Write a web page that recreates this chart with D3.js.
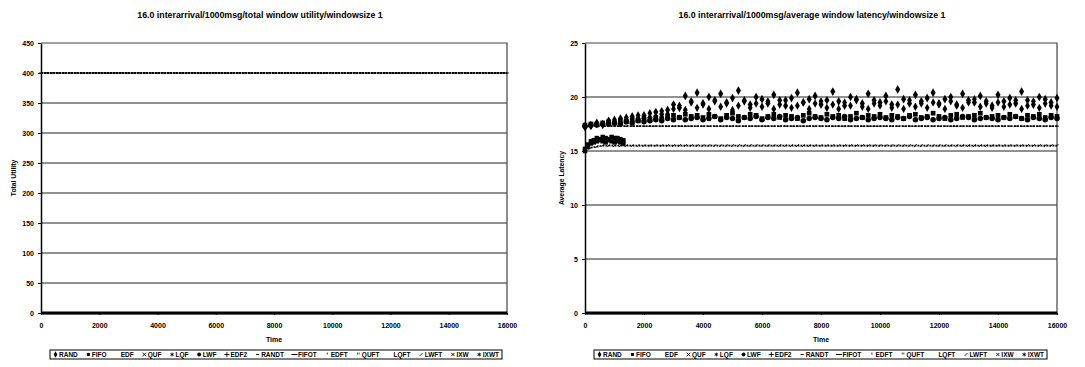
<!DOCTYPE html>
<html>
<head>
<meta charset="utf-8">
<script src="https://cdn.jsdelivr.net/npm/d3@7"></script>
<style>
  body { margin: 0; background: #fff; }
  text { font-family: "Liberation Sans", Arial, sans-serif; font-weight: bold; }
</style>
</head>
<body>
<script>
// ---- data ----
const seriesNames = ["RAND", "FIFO", "EDF", "QUF", "LQF", "LWF", "EDF2", "RANDT",
  "FIFOT", "EDFT", "QUFT", "LQFT", "LWFT", "IXW", "IXWT"];

const timeTicks = [0, 2000, 4000, 6000, 8000, 10000, 12000, 14000, 16000];
const utilityTicks = [0, 50, 100, 150, 200, 250, 300, 350, 400, 450];
const latencyTicks = [0, 5, 10, 15, 20, 25];

const times = [
  0, 200, 400, 600, 800, 1000, 1200, 1400, 1600, 1800,
  2000, 2200, 2400, 2600, 2800, 3000, 3200, 3400, 3600, 3800,
  4000, 4200, 4400, 4600, 4800, 5000, 5200, 5400, 5600, 5800,
  6000, 6200, 6400, 6600, 6800, 7000, 7200, 7400, 7600, 7800,
  8000, 8200, 8400, 8600, 8800, 9000, 9200, 9400, 9600, 9800,
  10000, 10200, 10400, 10600, 10800, 11000, 11200, 11400, 11600, 11800,
  12000, 12200, 12400, 12600, 12800, 13000, 13200, 13400, 13600, 13800,
  14000, 14200, 14400, 14600, 14800, 15000, 15200, 15400, 15600, 15800,
  16000];

const utilityTop = [
  400, 400, 400, 400, 400, 400, 400, 400, 400, 400,
  400, 400, 400, 400, 400, 400, 400, 400, 400, 400,
  400, 400, 400, 400, 400, 400, 400, 400, 400, 400,
  400, 400, 400, 400, 400, 400, 400, 400, 400, 400,
  400, 400, 400, 400, 400, 400, 400, 400, 400, 400,
  400, 400, 400, 400, 400, 400, 400, 400, 400, 400,
  400, 400, 400, 400, 400, 400, 400, 400, 400, 400,
  400, 400, 400, 400, 400, 400, 400, 400, 400, 400,
  400];

const utilityZero = [
  0, 0, 0, 0, 0, 0, 0, 0, 0, 0,
  0, 0, 0, 0, 0, 0, 0, 0, 0, 0,
  0, 0, 0, 0, 0, 0, 0, 0, 0, 0,
  0, 0, 0, 0, 0, 0, 0, 0, 0, 0,
  0, 0, 0, 0, 0, 0, 0, 0, 0, 0,
  0, 0, 0, 0, 0, 0, 0, 0, 0, 0,
  0, 0, 0, 0, 0, 0, 0, 0, 0, 0,
  0, 0, 0, 0, 0, 0, 0, 0, 0, 0,
  0];

const latencyHigh = [
  17.3, 17.4, 17.6, 17.5, 17.8, 17.7, 18.0, 17.9, 18.2, 18.0,
  18.3, 18.1, 18.6, 18.4, 18.8, 19.3, 19.0, 20.1, 19.6, 20.4,
  19.4, 20.0, 19.7, 20.3, 19.5, 19.9, 20.6, 19.6, 19.3, 20.0,
  19.8, 19.4, 20.2, 19.7, 19.2, 19.9, 20.4, 19.5, 19.8, 20.1,
  19.3, 19.7, 20.5, 19.6, 19.2, 20.0, 19.8, 19.4, 20.3, 19.7,
  19.5, 20.1, 19.3, 20.7, 19.8, 19.4, 20.2, 19.6, 19.9, 20.4,
  19.4, 19.8, 20.0, 19.3, 20.3, 19.7, 19.5, 20.1, 19.6, 19.2,
  20.2, 19.6, 19.9, 19.4, 20.5, 19.7, 19.3, 20.0, 19.8, 19.5,
  19.9];

const latencyHigh2 = [
  17.2, 17.3, 17.5, 17.4, 17.6, 17.9, 17.7, 18.1, 17.8, 18.3,
  18.0, 18.5, 18.2, 18.7, 18.4, 18.9, 19.2, 18.8, 19.5, 19.0,
  19.3, 18.9, 19.6, 19.1, 19.4, 18.8, 19.2, 19.7, 19.0, 19.4,
  19.1, 19.6, 18.9, 19.3, 19.7, 19.0, 19.2, 19.5, 18.9, 19.4,
  19.6, 19.0, 19.3, 18.9, 19.5, 19.2, 19.7, 19.1, 18.9, 19.4,
  19.2, 19.6, 19.0, 19.3, 18.9, 19.7, 19.1, 19.4, 19.0, 19.5,
  19.3, 18.9, 19.6, 19.2, 19.0, 19.5, 19.8, 19.1, 19.4, 19.0,
  19.5, 19.1, 19.3, 19.7, 18.9, 19.2, 19.6, 19.0, 19.4, 19.2,
  19.1];

const latencyMid = [
  17.4, 17.5, 17.5, 17.6, 17.7, 17.6, 17.8, 17.7, 17.9, 17.8,
  18.0, 17.9, 18.1, 18.0, 18.2, 18.3, 18.1, 18.4, 18.2, 18.3,
  18.1, 18.4, 18.2, 18.0, 18.3, 18.5, 18.2, 18.1, 18.4, 18.3,
  18.0, 18.2, 18.4, 18.1, 18.3, 18.2, 18.0, 18.3, 18.5, 18.2,
  18.1, 18.4, 18.2, 18.3, 18.0, 18.2, 18.5, 18.1, 18.3, 18.2,
  18.4, 18.1, 18.3, 18.2, 18.0, 18.3, 18.4, 18.1, 18.2, 18.5,
  18.2, 18.0, 18.3, 18.4, 18.1, 18.2, 18.3, 18.5, 18.1, 18.2,
  18.3, 18.1, 18.4, 18.2, 18.0, 18.3, 18.2, 18.4, 18.1, 18.3,
  18.2];

const latencyMid2 = [
  17.3, 17.4, 17.4, 17.5, 17.5, 17.6, 17.5, 17.7, 17.6, 17.8,
  17.7, 17.8, 17.9, 17.8, 18.0, 17.9, 18.1, 17.9, 18.0, 18.1,
  17.9, 18.0, 18.2, 17.9, 18.1, 18.0, 17.8, 18.1, 18.0, 18.2,
  17.9, 18.1, 18.0, 18.2, 17.9, 18.0, 18.1, 17.8, 18.0, 18.1,
  18.0, 17.9, 18.1, 18.0, 18.2, 17.9, 18.0, 18.1, 17.9, 18.0,
  18.1, 18.0, 17.9, 18.1, 18.0, 18.2, 17.9, 18.0, 18.1, 17.9,
  18.0, 18.1, 17.9, 18.0, 18.2, 18.1, 17.9, 18.0, 18.1, 18.0,
  17.9, 18.1, 18.0, 18.2, 18.0, 17.9, 18.1, 18.0, 17.9, 18.1,
  18.0];

const latencyDash = [
  17.2, 17.3, 17.3, 17.3, 17.3, 17.3, 17.3, 17.3, 17.3, 17.3,
  17.3, 17.3, 17.3, 17.3, 17.3, 17.3, 17.3, 17.3, 17.3, 17.3,
  17.3, 17.3, 17.3, 17.3, 17.3, 17.3, 17.3, 17.3, 17.3, 17.3,
  17.3, 17.3, 17.3, 17.3, 17.3, 17.3, 17.3, 17.3, 17.3, 17.3,
  17.3, 17.3, 17.3, 17.3, 17.3, 17.3, 17.3, 17.3, 17.3, 17.3,
  17.3, 17.3, 17.3, 17.3, 17.3, 17.3, 17.3, 17.3, 17.3, 17.3,
  17.3, 17.3, 17.3, 17.3, 17.3, 17.3, 17.3, 17.3, 17.3, 17.3,
  17.3, 17.3, 17.3, 17.3, 17.3, 17.3, 17.3, 17.3, 17.3, 17.3,
  17.3];

const latencyBase = [
  15.1, 15.3, 15.4, 15.5, 15.5, 15.5, 15.5, 15.5, 15.5, 15.5,
  15.5, 15.5, 15.5, 15.5, 15.5, 15.5, 15.5, 15.5, 15.5, 15.5,
  15.5, 15.5, 15.5, 15.5, 15.5, 15.5, 15.5, 15.5, 15.5, 15.5,
  15.5, 15.5, 15.5, 15.5, 15.5, 15.5, 15.5, 15.5, 15.5, 15.5,
  15.5, 15.5, 15.5, 15.5, 15.5, 15.5, 15.5, 15.5, 15.5, 15.5,
  15.5, 15.5, 15.5, 15.5, 15.5, 15.5, 15.5, 15.5, 15.5, 15.5,
  15.5, 15.5, 15.5, 15.5, 15.5, 15.5, 15.5, 15.5, 15.5, 15.5,
  15.5, 15.5, 15.5, 15.5, 15.5, 15.5, 15.5, 15.5, 15.5, 15.5,
  15.5];

const latencyZero = [
  0, 0, 0, 0, 0, 0, 0, 0, 0, 0,
  0, 0, 0, 0, 0, 0, 0, 0, 0, 0,
  0, 0, 0, 0, 0, 0, 0, 0, 0, 0,
  0, 0, 0, 0, 0, 0, 0, 0, 0, 0,
  0, 0, 0, 0, 0, 0, 0, 0, 0, 0,
  0, 0, 0, 0, 0, 0, 0, 0, 0, 0,
  0, 0, 0, 0, 0, 0, 0, 0, 0, 0,
  0, 0, 0, 0, 0, 0, 0, 0, 0, 0,
  0];

// early cluster near the start of the latency run
const earlyTimes = [0, 100, 200, 300, 400, 500, 600, 700, 800, 900, 1000, 1100, 1200, 1300];
const latencyEarlyA = [15.2, 15.6, 15.9, 16.0, 16.2, 16.1, 16.3, 16.2, 16.1, 16.3, 16.2, 16.2, 16.1, 16.0];
const latencyEarlyB = [15.0, 15.4, 15.7, 15.8, 15.9, 16.0, 15.9, 15.8, 16.0, 15.9, 15.8, 15.9, 15.8, 15.7];

// ---- drawing ----
const svg = d3.select("body").append("svg")
  .attr("width", 1085)
  .attr("height", 367);

const symTimes = d3.symbolTimes || d3.symbolCross;
const symPlus = d3.symbolPlus || d3.symbolCross;
const symStar = d3.symbolAsterisk || d3.symbolStar;

// marker for each legend entry
const legendMarks = {
  RAND: {sym: d3.symbolDiamond, size: 12},
  FIFO: {sym: d3.symbolSquare, size: 9},
  EDF: null,
  QUF: {sym: symTimes, size: 10, stroke: true},
  LQF: {sym: symStar, size: 10, stroke: true},
  LWF: {sym: d3.symbolCircle, size: 12},
  EDF2: {sym: symPlus, size: 10, stroke: true},
  RANDT: {dash: [-1.5, 1.5]},
  FIFOT: {dash: [-3, 3]},
  EDFT: {tick: true},
  QUFT: {tick2: true},
  LQFT: null,
  LWFT: {slash: true},
  IXW: {sym: symTimes, size: 8, stroke: true},
  IXWT: {sym: symStar, size: 10, stroke: true}
};

function drawMark(g, m, cx, cy) {
  if (!m) return;
  if (m.sym) {
    const p = g.append("path")
      .attr("transform", `translate(${cx},${cy})`)
      .attr("d", d3.symbol().type(m.sym).size(m.size)());
    if (m.stroke) p.attr("fill", "none").attr("stroke", "#000").attr("stroke-width", 0.9);
    else p.attr("fill", "#000");
  } else if (m.dash) {
    g.append("line").attr("x1", cx + m.dash[0]).attr("x2", cx + m.dash[1])
      .attr("y1", cy).attr("y2", cy).attr("stroke", "#000").attr("stroke-width", 1);
  } else if (m.tick) {
    g.append("line").attr("x1", cx).attr("x2", cx).attr("y1", cy - 2).attr("y2", cy)
      .attr("stroke", "#000").attr("stroke-width", 0.8);
  } else if (m.tick2) {
    [-0.8, 0.8].forEach(o => g.append("line").attr("x1", cx + o).attr("x2", cx + o)
      .attr("y1", cy - 2).attr("y2", cy).attr("stroke", "#000").attr("stroke-width", 0.7));
  } else if (m.slash) {
    g.append("line").attr("x1", cx - 1.5).attr("x2", cx + 1.5).attr("y1", cy + 1.5).attr("y2", cy - 1.5)
      .attr("stroke", "#000").attr("stroke-width", 0.8);
  }
}

function drawLegend(x0, x1, y0) {
  const g = svg.append("g");
  g.append("rect")
    .attr("x", x0).attr("y", y0).attr("width", x1 - x0).attr("height", 9)
    .attr("fill", "#fff").attr("stroke", "#000").attr("stroke-width", 1);

  const labels = g.selectAll("text.lab").data(seriesNames).enter().append("text")
    .attr("class", "lab")
    .attr("font-size", "6.5px")
    .attr("fill", "#000")
    .attr("y", y0 + 7)
    .text(d => d);
  const widths = [];
  labels.each(function () { widths.push(this.getComputedTextLength()); });
  const markW = 6;
  const used = d3.sum(widths) + markW * seriesNames.length;
  const gap = (x1 - x0 - 6 - used) / (seriesNames.length - 1);
  let cx = x0 + 3;
  labels.each(function (d, i) {
    drawMark(g, legendMarks[d], cx + 2.5, y0 + 4.5);
    d3.select(this).attr("x", cx + markW);
    cx += markW + widths[i] + gap;
  });
}

function drawChart(cfg) {
  const x = d3.scaleLinear().domain([0, 16000]).range([cfg.left, cfg.right]);
  const y = d3.scaleLinear().domain([0, cfg.ticks[cfg.ticks.length - 1]]).range([313, 43]);
  const g = svg.append("g");

  // gridlines
  g.selectAll("line.grid").data(cfg.ticks.slice(1, -1)).enter().append("line")
    .attr("x1", cfg.left).attr("x2", cfg.right)
    .attr("y1", d => y(d)).attr("y2", d => y(d))
    .attr("stroke", "#222").attr("stroke-width", 1);

  // frame top/right
  g.append("path")
    .attr("d", `M${cfg.left},43H${cfg.right}V313`)
    .attr("fill", "none").attr("stroke", "#444").attr("stroke-width", 1.2);

  // series
  cfg.series.forEach(s => {
    const pts = s.values.map((v, i) => [s.times[i], v]).filter(p => p[1] != null);
    if (s.line) {
      g.append("path")
        .attr("d", d3.line().x(p => x(p[0])).y(p => y(p[1]))(pts))
        .attr("fill", "none").attr("stroke", "#000")
        .attr("stroke-width", s.line.width)
        .attr("stroke-dasharray", s.line.dash);
    }
    if (s.mark) {
      pts.forEach(p => drawMark(g, s.mark, x(p[0]), y(p[1])));
    }
  });

  // axes
  const yAxis = g.append("g")
    .attr("transform", `translate(${cfg.left},0)`)
    .call(d3.axisLeft(y).tickValues(cfg.ticks).tickSize(3).tickSizeOuter(0).tickPadding(4));
  const xAxis = g.append("g")
    .attr("transform", "translate(0,313)")
    .call(d3.axisBottom(x).tickValues(timeTicks).tickFormat(d3.format("d"))
      .tickSize(2).tickSizeOuter(0).tickPadding(8));
  [yAxis, xAxis].forEach(a => {
    a.selectAll("text").attr("font-size", "7px").attr("font-family", null).attr("fill", "#000");
    a.selectAll("line").attr("stroke", "#000");
    a.select(".domain").attr("stroke", "#000").attr("stroke-width", 1.5);
    a.attr("font-family", null);
  });

  // titles
  svg.append("text")
    .attr("x", cfg.titleX).attr("y", 18)
    .attr("text-anchor", "middle")
    .attr("font-size", "8.8px")
    .text(cfg.title);
  svg.append("text")
    .attr("x", (cfg.left + cfg.right) / 2).attr("y", 341.5)
    .attr("text-anchor", "middle")
    .attr("font-size", "7px")
    .text("Time");
  svg.append("text")
    .attr("transform", `translate(${cfg.yLabelX},178) rotate(-90)`)
    .attr("text-anchor", "middle")
    .attr("font-size", "6.8px")
    .text(cfg.yLabel);

  drawLegend(cfg.legend[0], cfg.legend[1], 350);
}

const dashMark = {dash: [-1.8, 1.8]};

drawChart({
  left: 41, right: 507,
  ticks: utilityTicks,
  title: "16.0 interarrival/1000msg/total window utility/windowsize 1",
  titleX: 260,
  yLabel: "Total Utility",
  yLabelX: 16,
  legend: [50, 502],
  series: [
    {times: times, values: utilityTop, line: {width: 1.8, dash: "2,1"}, mark: dashMark},
    {times: times, values: utilityZero, line: {width: 3.2, dash: null}}
  ]
});

drawChart({
  left: 585, right: 1057,
  ticks: latencyTicks,
  title: "16.0 interarrival/1000msg/average window latency/windowsize 1",
  titleX: 812,
  yLabel: "Average Latency",
  yLabelX: 564,
  legend: [594, 1047],
  series: [
    {times: times, values: latencyZero, line: {width: 3.2, dash: null}},
    {times: times, values: latencyBase, line: {width: 1.6, dash: "2,1"}, mark: {slash: true}},
    {times: times, values: latencyDash, line: {width: 1.6, dash: "2,1.2"}, mark: dashMark},
    {times: earlyTimes, values: latencyEarlyB, mark: {sym: d3.symbolSquare, size: 20}},
    {times: earlyTimes, values: latencyEarlyA, mark: {sym: d3.symbolSquare, size: 20}},
    {times: times, values: latencyMid2, mark: {sym: d3.symbolCircle, size: 24}},
    {times: times, values: latencyMid, mark: {sym: d3.symbolSquare, size: 22}},
    {times: times, values: latencyHigh2, mark: {sym: d3.symbolDiamond, size: 20}},
    {times: times, values: latencyHigh, mark: {sym: d3.symbolDiamond, size: 22}}
  ]
});
</script>
</body>
</html>
